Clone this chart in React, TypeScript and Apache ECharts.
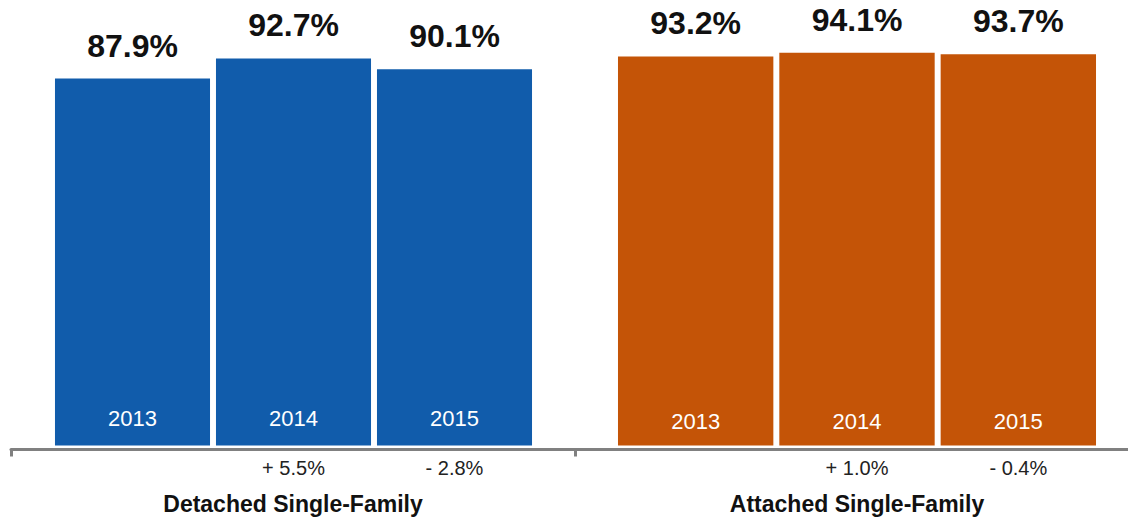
import React, { useEffect, useRef } from "react";
import * as echarts from "echarts";

const years = ["2013", "2014", "2015"];
const detachedValues = [87.9, 92.7, 90.1];
const attachedValues = [93.2, 94.1, 93.7];
const detachedChanges = ["", "+ 5.5%", "- 2.8%"];
const attachedChanges = ["", "+ 1.0%", "- 0.4%"];
const groupNames = ["Detached Single-Family", "Attached Single-Family"];

const BLUE = "#115CAB";
const ORANGE = "#C45407";
const FONT = "'Liberation Sans', Arial, Helvetica, sans-serif";

export default function App() {
  const ref = useRef<HTMLDivElement>(null);

  useEffect(() => {
    if (!ref.current) return;
    const chart = echarts.init(ref.current, undefined, { renderer: "svg" });

    const valueLabel = {
      show: true,
      position: "top",
      distance: 17,
      fontFamily: FONT,
      fontSize: 32,
      fontWeight: "bold",
      color: "#111",
      formatter: (p: any) => `${Number(p.value).toFixed(1)}%`,
    };
    const yearLabel = (dist: number) => ({
      show: true,
      position: "insideBottom",
      distance: dist,
      fontFamily: FONT,
      fontSize: 22,
      color: "#fff",
      formatter: (p: any) => p.name,
    });

    const changeAxis = (gridIndex: number, changes: string[]) => ({
      type: "category",
      gridIndex,
      data: years,
      axisLine: { show: false },
      axisTick: { show: false },
      axisLabel: {
        margin: 12,
        fontFamily: FONT,
        fontSize: 20,
        color: "#222",
        formatter: (_v: string, i: number) => changes[i],
      },
    });

    const groupSeries = (idx: number, values: number[], color: string, dist: number) => [
      {
        type: "bar",
        xAxisIndex: idx,
        yAxisIndex: idx,
        data: values,
        barCategoryGap: "3.7%",
        barGap: "-100%",
        itemStyle: { color },
        label: valueLabel,
        silent: true,
      },
      {
        type: "bar",
        xAxisIndex: idx,
        yAxisIndex: idx,
        data: values,
        barCategoryGap: "3.7%",
        barGap: "-100%",
        itemStyle: { color: "transparent" },
        label: yearLabel(dist),
        silent: true,
      },
    ];

    chart.setOption({
      animation: false,
      grid: [
        { left: 52, width: 483, top: 28, bottom: 71.5, outerBoundsMode: "none" },
        { left: 615, width: 484, top: 28, bottom: 71.5, outerBoundsMode: "none" },
        { left: 11, width: 1128, top: 20, bottom: 67.5, outerBoundsMode: "none" },
      ],
      xAxis: [
        changeAxis(0, detachedChanges),
        changeAxis(1, attachedChanges),
        {
          type: "category",
          gridIndex: 2,
          data: groupNames,
          axisLine: { show: true, lineStyle: { color: "#808080", width: 3 } },
          axisTick: { show: true, length: 7, lineStyle: { color: "#808080", width: 3 } },
          axisLabel: {
            margin: 43,
            fontFamily: FONT,
            fontSize: 23,
            fontWeight: "bold",
            color: "#111",
          },
        },
      ],
      yAxis: [0, 1, 2].map((i) => ({
        type: "value",
        gridIndex: i,
        min: 0,
        max: 100,
        show: false,
        splitLine: { show: false },
      })),
      series: [
        ...groupSeries(0, detachedValues, BLUE, 16),
        ...groupSeries(1, attachedValues, ORANGE, 13),
      ],
    });

    return () => chart.dispose();
  }, []);

  return <div ref={ref} style={{ width: 1128, height: 517, position: "absolute", left: 0, top: 0 }} />;
}
